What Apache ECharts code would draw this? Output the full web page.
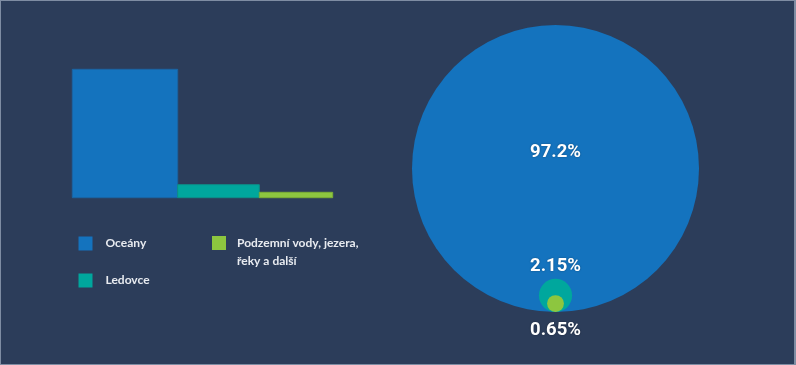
<!DOCTYPE html>
<html>
<head>
<meta charset="utf-8">
<script src="https://cdn.jsdelivr.net/npm/echarts@6/dist/echarts.min.js"></script>
<style>
  html, body { margin: 0; padding: 0; background: #2c3d5a; }
  #wrap { width: 796px; height: 365px; box-sizing: border-box; border: 1px solid #7f8da3; border-right-width: 2px; overflow: hidden; }
  #chart { width: 793px; height: 363px; }
</style>
</head>
<body>
<div id="wrap"><div id="chart"></div></div>
<script>
// ---- data ----
var categories = ['Oceány', 'Ledovce', 'Podzemní vody, jezera, řeky a další'];
var legendLabels = ['Oceány', 'Ledovce', '\nPodzemní vody, jezera,\nřeky a další'];
var shares = [97.2, 2.15, 0.65];            // percent of Earth's water
var shareLabels = ['97.2%', '2.15%', '0.65%'];
var barHeights = [128.4, 13, 5.4];          // bar heights as drawn (arbitrary units)
var barWidths = [105.4, 81.6, 73.4];        // bar widths as drawn (arbitrary units)
var colors = ['#1473be', '#00a79d', '#8dc63f'];
var borders = ['#1b64a3', '#0d8f88', '#7aad36'];

// ---- build ----
var chart = echarts.init(document.getElementById('chart'));
var totalW = barWidths.reduce(function (a, b) { return a + b; }, 0);
var maxH = Math.max.apply(null, barHeights);

var series = [];
var start = 0;
categories.forEach(function (name, i) {
  series.push({
    type: 'custom',
    name: name,
    xAxisIndex: 0, yAxisIndex: 0,
    itemStyle: { color: colors[i] },
    data: [[start, start + barWidths[i], barHeights[i]]],
    renderItem: function (params, api) {
      var p0 = api.coord([api.value(0), 0]);
      var p1 = api.coord([api.value(1), api.value(2)]);
      return {
        type: 'rect',
        shape: { x: p0[0], y: p1[1], width: p1[0] - p0[0], height: p0[1] - p1[1] },
        style: { fill: colors[i], stroke: borders[i], lineWidth: 1 }
      };
    }
  });
  start += barWidths[i];
});

var maxDiam = 287;
var labelCfg = [
  { position: 'inside', offset: [0, -16] },
  { position: 'top', distance: 3 },
  { position: 'bottom', distance: 9 }
];
categories.forEach(function (name, i) {
  series.push({
    type: 'scatter',
    name: name,
    xAxisIndex: 1, yAxisIndex: 1,
    symbol: 'circle',
    symbolSize: maxDiam * Math.pow(shares[i] / shares[0], 0.566),
    symbolOffset: [0, '-50%'],
    itemStyle: { color: colors[i], opacity: 1 },
    z: 2 + i,
    label: Object.assign({
      show: true,
      formatter: shareLabels[i],
      color: '#ffffff',
      fontFamily: 'Roboto',
      fontWeight: 'bold',
      fontSize: 18.5,
      textShadowColor: 'rgba(0,0,0,0.35)',
      textShadowBlur: 2
    }, labelCfg[i]),
    emphasis: { disabled: true },
    data: [[0, 0]]
  });
});

var legendText = {
  color: '#e8ebf0',
  fontFamily: 'Lato',
  fontWeight: 'bold',
  fontSize: 12
};

chart.setOption({
  backgroundColor: '#2c3d5a',
  animation: false,
  grid: [
    { left: 71.3, top: 68.3, width: totalW, height: maxH },
    { left: 454.5, top: 11, width: 200, height: 300 }
  ],
  xAxis: [
    { gridIndex: 0, type: 'value', min: 0, max: totalW, show: false },
    { gridIndex: 1, type: 'value', min: -1, max: 1, show: false }
  ],
  yAxis: [
    { gridIndex: 0, type: 'value', min: 0, max: maxH, show: false },
    { gridIndex: 1, type: 'value', min: 0, max: 1, show: false }
  ],
  legend: [
    {
      orient: 'vertical', left: 72.5, top: 230.5, padding: 5,
      itemWidth: 14, itemHeight: 14, itemGap: 23,
      icon: 'rect',
      data: [
        { name: categories[0], itemStyle: { color: colors[0] } },
        { name: categories[1], itemStyle: { color: colors[1] } }
      ],
      formatter: function (n) { return legendLabels[categories.indexOf(n)]; },
      textStyle: Object.assign({ padding: [0, 0, 0, 8] }, legendText)
    },
    {
      orient: 'vertical', left: 206, top: 210, padding: 5,
      itemWidth: 14, itemHeight: 14,
      icon: 'rect',
      data: [{ name: categories[2], itemStyle: { color: colors[2] } }],
      formatter: function (n) { return legendLabels[categories.indexOf(n)]; },
      textStyle: Object.assign({ padding: [0, 0, 0, 6], lineHeight: 18 }, legendText)
    }
  ],
  series: series
});
</script>
</body>
</html>
